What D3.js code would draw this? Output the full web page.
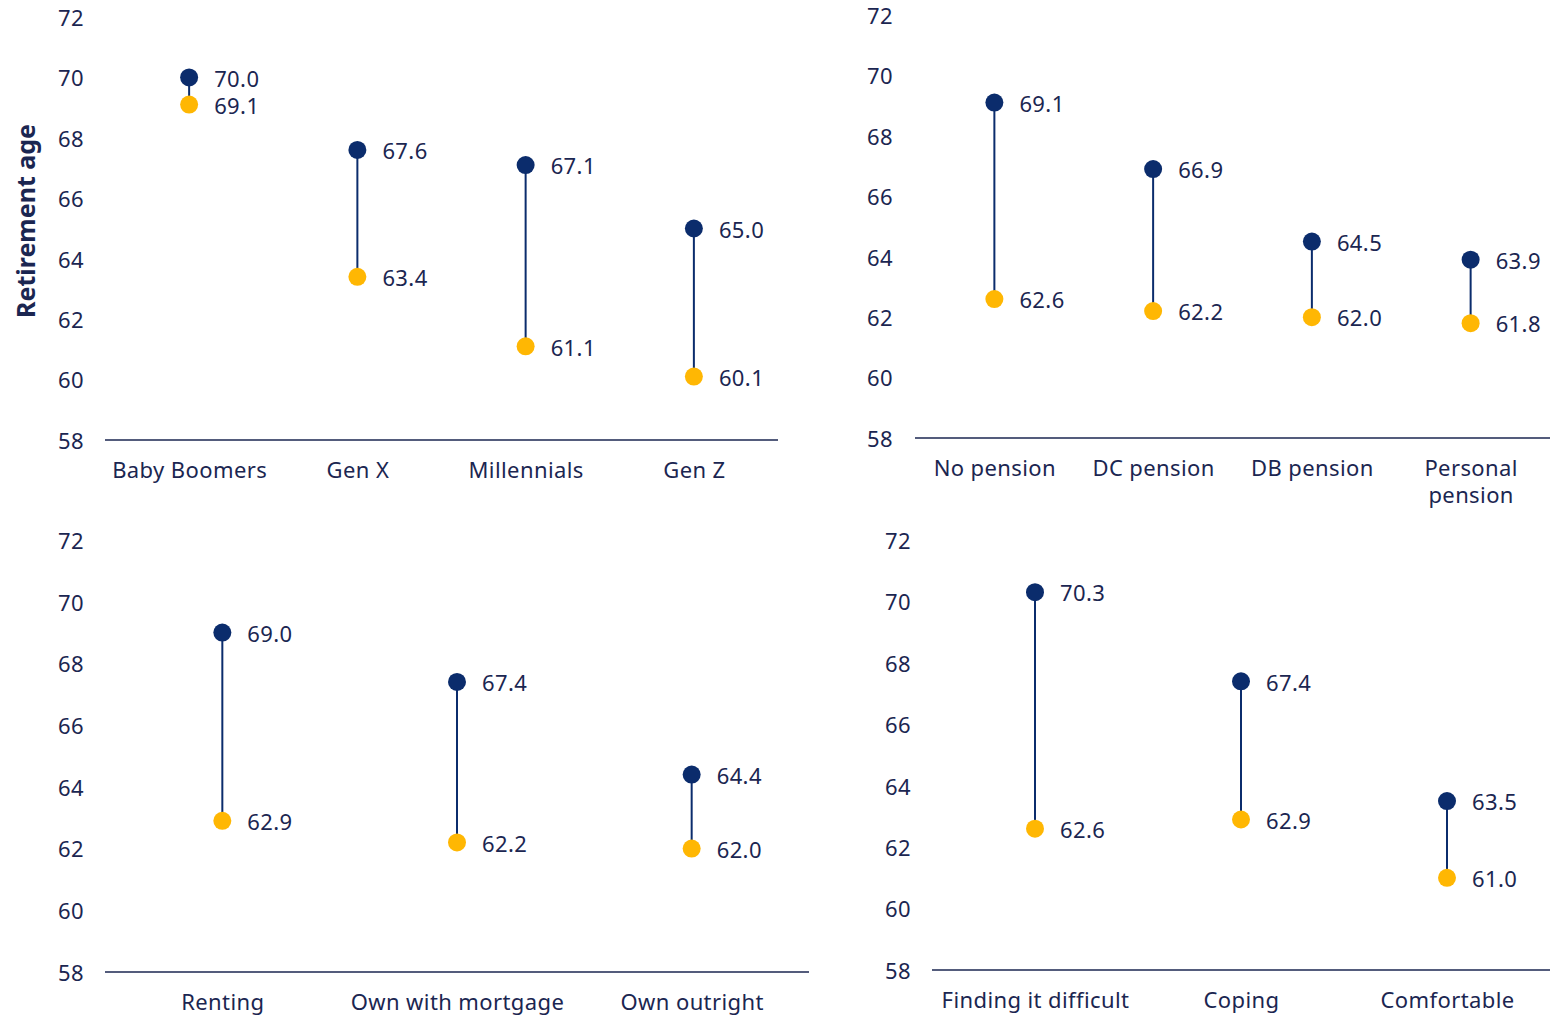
<!DOCTYPE html>
<html>
<head>
<meta charset="utf-8">
<script src="https://cdn.jsdelivr.net/npm/d3@7"></script>
<style>
  html, body { margin: 0; padding: 0; background: #fff; }
  svg text { font-family: "Noto Sans", "Open Sans", sans-serif; fill: #1b2651; }
</style>
</head>
<body>
<svg id="chart" width="1565" height="1016"></svg>
<script>
// Retirement age by group: upper dot = expected age, lower dot = desired age
const yTicks = [58, 60, 62, 64, 66, 68, 70, 72];

const genCategories = ["Baby Boomers", "Gen X", "Millennials", "Gen Z"];
const genExpected   = [70.0, 67.6, 67.1, 65.0];
const genDesired    = [69.1, 63.4, 61.1, 60.1];

const pensionCategories = ["No pension", "DC pension", "DB pension", "Personal pension"];
const pensionExpected   = [69.1, 66.9, 64.5, 63.9];
const pensionDesired    = [62.6, 62.2, 62.0, 61.8];

const housingCategories = ["Renting", "Own with mortgage", "Own outright"];
const housingExpected   = [69.0, 67.4, 64.4];
const housingDesired    = [62.9, 62.2, 62.0];

const financeCategories = ["Finding it difficult", "Coping", "Comfortable"];
const financeExpected   = [70.3, 67.4, 63.5];
const financeDesired    = [62.6, 62.9, 61.0];

const NAVY = "#0b2c6c";
const GOLD = "#ffb703";
const INK = "#1b2651";
const FS = 22;
const LS = "0.4px";

const panels = [
  { cats: genCategories, hi: genExpected, lo: genDesired,
    x0: 105, x1: 778, yTop: 17, yBot: 440, tickRight: 84, wrap: false },
  { cats: pensionCategories, hi: pensionExpected, lo: pensionDesired,
    x0: 915, x1: 1550, yTop: 15, yBot: 438, tickRight: 893, wrap: true },
  { cats: housingCategories, hi: housingExpected, lo: housingDesired,
    x0: 105, x1: 809, yTop: 540, yBot: 972, tickRight: 84, wrap: false },
  { cats: financeCategories, hi: financeExpected, lo: financeDesired,
    x0: 932, x1: 1550, yTop: 540, yBot: 970, tickRight: 911, wrap: false }
];

const svg = d3.select("#chart");

panels.forEach(p => {
  const g = svg.append("g");
  const x = d3.scalePoint().domain(p.cats).range([p.x0, p.x1]).padding(0.5);
  const y = d3.scaleLinear().domain([58, 72]).range([p.yBot, p.yTop]);

  // value axis: labels only
  const yAxis = g.append("g")
    .attr("transform", `translate(${p.tickRight},0)`)
    .call(d3.axisLeft(y).tickValues(yTicks).tickSize(0).tickPadding(0).tickFormat(d3.format("d")));
  yAxis.select(".domain").remove();
  yAxis.selectAll("text")
    .attr("font-size", FS).attr("fill", INK).attr("dy", "0.38em")
    .style("letter-spacing", LS)
    .style("font-family", '"Noto Sans", sans-serif');

  // baseline
  g.append("line")
    .attr("x1", p.x0).attr("x2", p.x1)
    .attr("y1", y(58)).attr("y2", y(58))
    .attr("stroke", "#1b2651").attr("stroke-width", 1.5);

  // category labels
  const xAxis = g.append("g")
    .attr("transform", `translate(0,${y(58)})`)
    .call(d3.axisBottom(x).tickSize(0).tickPadding(0).tickFormat(() => ""));
  xAxis.select(".domain").remove();
  xAxis.selectAll(".tick").each(function(d) {
    const t = d3.select(this).append("text")
      .attr("text-anchor", "middle")
      .attr("font-size", FS).attr("fill", INK)
      .style("letter-spacing", LS);
    const words = (p.wrap && d.includes(" ") && d.length > 12) ? d.split(" ") : [d];
    words.forEach((w, i) => {
      t.append("tspan").attr("x", 0).attr("y", 38 + i * 27).text(w);
    });
  });

  const rows = p.cats.map((c, i) => ({ c, hi: p.hi[i], lo: p.lo[i] }));

  // connectors
  g.selectAll(".stem").data(rows).join("line")
    .attr("x1", d => x(d.c)).attr("x2", d => x(d.c))
    .attr("y1", d => y(d.hi)).attr("y2", d => y(d.lo))
    .attr("stroke", NAVY).attr("stroke-width", 2);

  // dots
  g.selectAll(".hi").data(rows).join("circle")
    .attr("cx", d => x(d.c)).attr("cy", d => y(d.hi)).attr("r", 9).attr("fill", NAVY);
  g.selectAll(".lo").data(rows).join("circle")
    .attr("cx", d => x(d.c)).attr("cy", d => y(d.lo)).attr("r", 9).attr("fill", GOLD);

  // value labels
  const fmt = d3.format(".1f");
  ["hi", "lo"].forEach(k => {
    g.selectAll(".lab-" + k).data(rows).join("text")
      .attr("x", d => x(d.c) + 25).attr("y", d => y(d[k]))
      .attr("dy", "0.42em").attr("font-size", FS).attr("fill", INK)
      .style("letter-spacing", LS)
      .text(d => fmt(d[k]));
  });
});

// shared y-axis title
svg.append("text")
  .attr("transform", "translate(35,221) rotate(-90)")
  .attr("text-anchor", "middle")
  .attr("font-size", 25).attr("font-weight", "bold").attr("fill", INK)
  .text("Retirement age");
</script>
</body>
</html>
